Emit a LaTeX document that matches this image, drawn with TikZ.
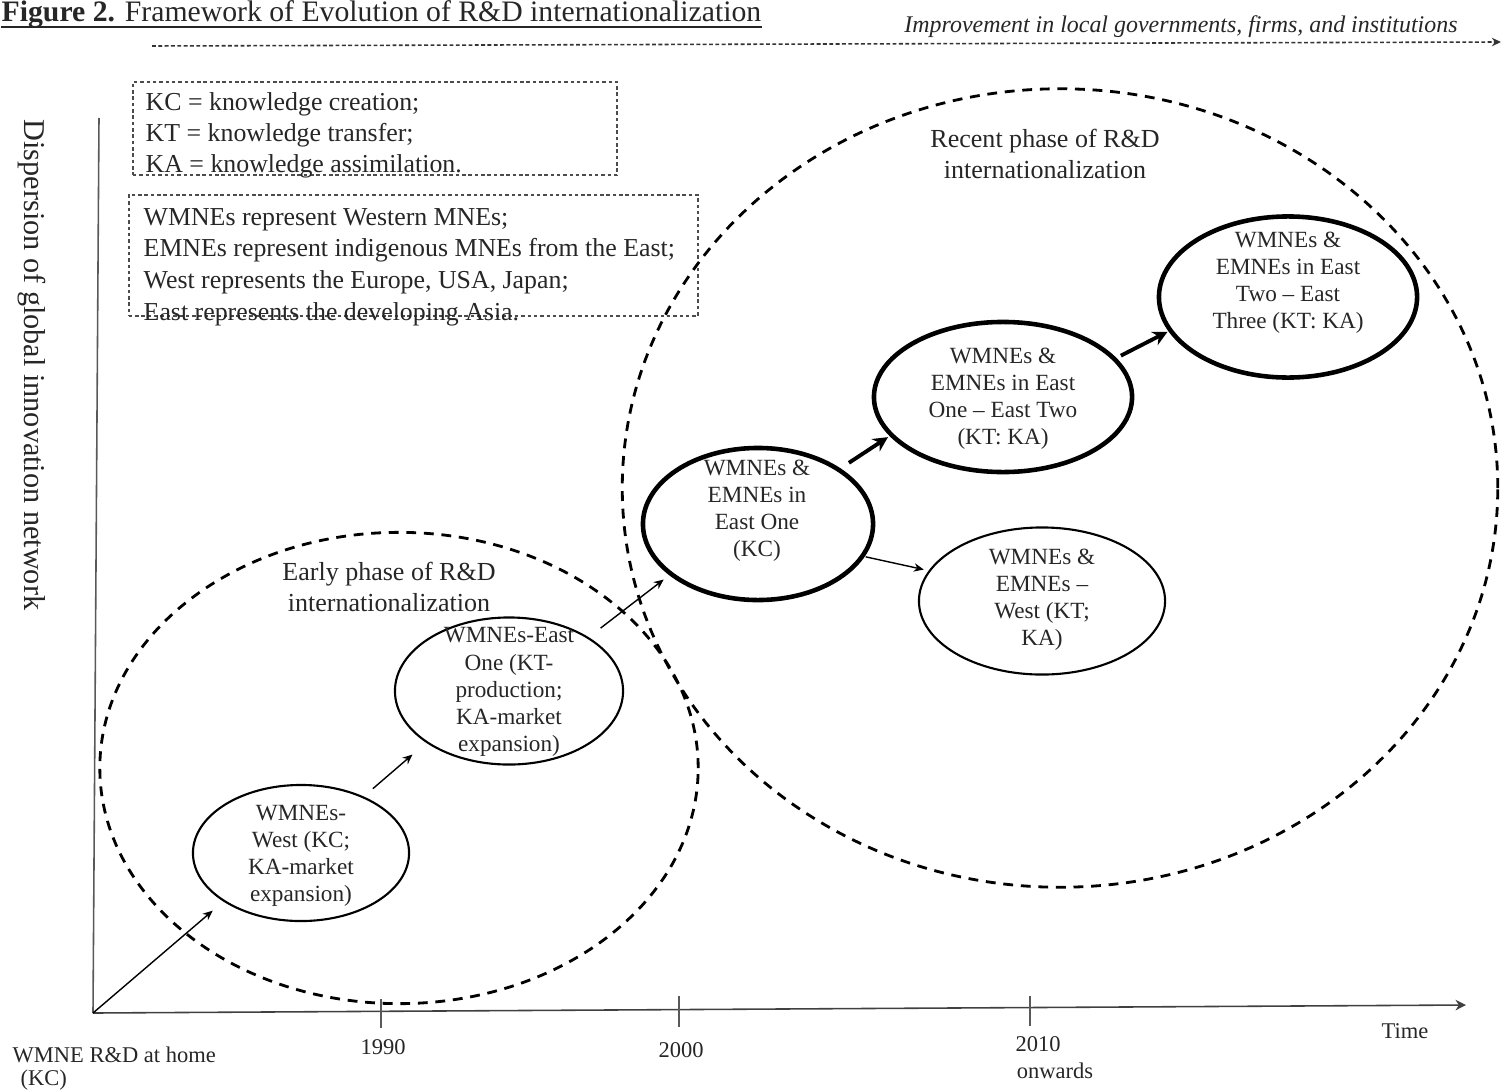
\documentclass[tikz,border=0pt]{standalone}
\usepackage{fontspec}
\setmainfont{Liberation Serif}
\usetikzlibrary{arrows.meta,shapes.geometric}
\begin{document}
\begin{tikzpicture}[x=0.01cm,y=-0.01cm,
  txt/.style={text=black!85, inner sep=0pt, align=center},
  lab/.style={txt, font=\fontsize{6.6}{7.7}\selectfont},
  tick/.style={txt, font=\fontsize{6.4}{7.5}\selectfont},
  phasetxt/.style={txt, font=\fontsize{7.4}{8.7}\selectfont},
  legtxt/.style={txt, align=left, font=\fontsize{7.35}{8.8}\selectfont},
  ell/.style={ellipse, draw=black, line width=0.6pt, inner sep=0pt},
  ellthick/.style={ellipse, draw=black, line width=1.3pt, inner sep=0pt},
  phase/.style={ellipse, draw=black, line width=0.8pt, dash pattern=on 2.8pt off 2.2pt, inner sep=0pt},
  legend/.style={draw=black!70, line width=0.4pt, dash pattern=on 1pt off 0.8pt, inner sep=0pt},
  axis/.style={draw=black!65, line width=0.45pt},
  thinarr/.style={line width=0.4pt, -{Stealth[length=2.8pt,width=2.4pt]}},
  thickarr/.style={line width=1.1pt, -{Stealth[length=4.2pt,width=4.2pt]}},
]
\useasboundingbox (0,0) rectangle (1501,1091);

% title
\node[txt, anchor=base west, font=\fontsize{8.45}{10}\selectfont] (title) at (1,22)
  {\textbf{Figure 2.} Framework of Evolution of R\&D internationalization};
\draw[black!85, line width=0.5pt] ([yshift=-0.05cm]title.base west) -- ([yshift=-0.05cm]title.base east);

% top improvement arrow
\coordinate (imps) at (152,46);
\coordinate (impe) at (1501,42);
\draw[black!80, line width=0.45pt, dash pattern=on 1.1pt off 0.7pt, -{Stealth[length=2.6pt,width=2.4pt]}] (imps) -- (impe);
\node[txt, font=\fontsize{6.8}{8}\selectfont\itshape] (imp) at (1181,27)
  {Improvement in local governments, firms, and institutions};

% axes
\coordinate (O) at (93,1013);
\coordinate (ytop) at (99,118);
\coordinate (xend) at (1466,1005);
\draw[axis] (O) -- (ytop);
\draw[axis, -{Stealth[length=3pt,width=3pt]}, draw=black!75] (O) -- (xend);
\draw[axis] (381,999) -- (381,1028);
\draw[axis] (679,996) -- (679,1027);
\draw[axis] (1030,996) -- (1030,1026);

\node[txt, rotate=-90, font=\fontsize{8.6}{10}\selectfont] (ylab) at (32,365)
  {Dispersion of global innovation network};

\node[tick] (t1990) at (383,1047) {1990};
\node[tick] (t2000) at (681,1050) {2000};
\node[tick] (t2010) at (1038,1044) {2010};
\node[tick] (tonw) at (1055,1071) {onwards};
\node[tick] (ttime) at (1405,1031) {Time};
\node[tick, anchor=west] (home) at (12,1055) {WMNE R\&D at home};
\node[tick, anchor=west] (homekc) at (20,1080) {(KC)};

% legend boxes
\node[legend, minimum width=4.84cm, minimum height=0.93cm] (box1) at (375,128.5) {};
\node[legtxt, anchor=west] (box1t) at (145,135)
  {KC = knowledge creation;\\KT = knowledge transfer;\\KA = knowledge assimilation.};
\node[legend, minimum width=5.69cm, minimum height=1.21cm] (box2) at (413.5,255.5) {};
\node[legtxt, anchor=west, font=\fontsize{7.35}{9}\selectfont] (box2t) at (143,267)
  {WMNEs represent Western MNEs;\\EMNEs represent indigenous MNEs from the East;\\West represents the Europe, USA, Japan;\\East represents the developing Asia.};

% phase ellipses
\node[phase, minimum width=5.98cm, minimum height=4.71cm] (early) at (399,768) {};
\node[phase, minimum width=8.75cm, minimum height=7.98cm] (recent) at (1060,488) {};
\node[phasetxt] (earlyt) at (389,587) {Early phase of R\&D\\internationalization};
\node[phasetxt] (recentt) at (1045,154) {Recent phase of R\&D\\internationalization};

% stage ellipses
\node[ell, minimum width=2.16cm, minimum height=1.36cm] (e1) at (301,853) {};
\node[ell, minimum width=2.28cm, minimum height=1.47cm] (e2) at (509,691) {};
\node[ellthick, minimum width=2.30cm, minimum height=1.52cm] (e3) at (758,524) {};
\node[ellthick, minimum width=2.58cm, minimum height=1.50cm] (e4) at (1003,397) {};
\node[ellthick, minimum width=2.58cm, minimum height=1.61cm] (e5) at (1288,297) {};
\node[ell, minimum width=2.46cm, minimum height=1.47cm] (e6) at (1042,601) {};

\node[lab] (e1t) at (301,856) {WMNEs-\\West (KC;\\KA-market\\expansion)};
\node[lab] (e2t) at (509,692) {WMNEs-East\\One (KT-\\production;\\KA-market\\expansion)};
\node[lab] (e3t) at (757,511) {WMNEs \&\\EMNEs in\\East One\\(KC)};
\node[lab] (e4t) at (1003,399) {WMNEs \&\\EMNEs in East\\One -- East Two\\(KT: KA)};
\node[lab] (e5t) at (1288,283) {WMNEs \&\\EMNEs in East\\Two -- East\\Three (KT: KA)};
\node[lab] (e6t) at (1042,600) {WMNEs \&\\EMNEs --\\West (KT;\\KA)};

% connectors
\draw[thinarr, shorten >=0.14cm] (O) -- (e1.212);
\draw[thinarr, shorten <=0.12cm, shorten >=0.18cm] (e1.42) -- (e2.212);
\draw[thinarr, shorten <=0.15cm, shorten >=0.07cm] (e2.34) -- (e3.210);
\draw[thickarr, shorten <=0.10cm, shorten >=0.02cm] (e3.34) -- (e4.199);
\draw[thickarr, shorten <=0.05cm, shorten >=0.01cm] (e4.19) -- (e5.196);
\draw[thinarr, shorten <=0.01cm, shorten >=0.05cm] (e3.-17) -- (e6.165);
\end{tikzpicture}
\end{document}
